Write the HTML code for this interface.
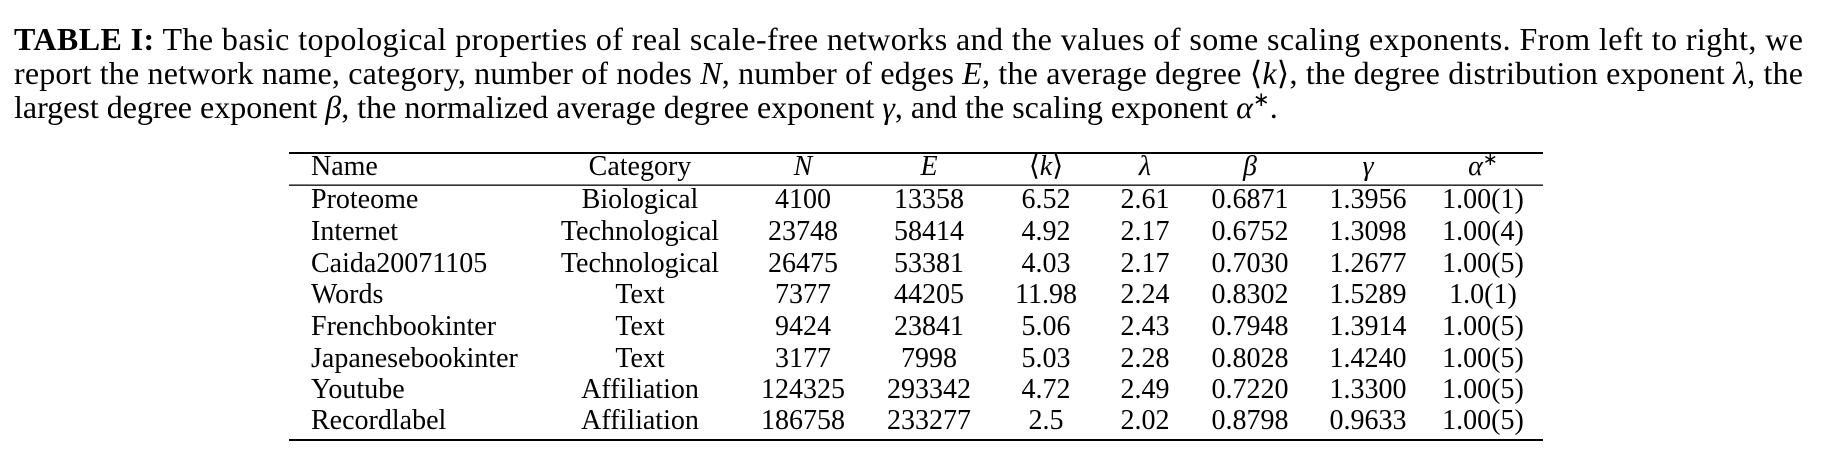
<!DOCTYPE html>
<html><head><meta charset="utf-8"><style>
html,body{margin:0;padding:0;background:#fff;}
svg{display:block;}
text{font-family:"Liberation Serif",serif;fill:#000;}
</style></head><body>
<svg width="1846" height="468" viewBox="0 0 1846 468" xmlns="http://www.w3.org/2000/svg">
<g font-size="32">
<text x="14" y="50" textLength="1789" lengthAdjust="spacing"><tspan font-weight="bold">TABLE I:</tspan> The basic topological properties of real scale-free networks and the values of some scaling exponents. From left to right, we</text>
<text x="14" y="84" textLength="1789" lengthAdjust="spacing">report the network name, category, number of nodes <tspan font-style="italic">N</tspan>, number of edges <tspan font-style="italic">E</tspan>, the average degree ⟨<tspan font-style="italic">k</tspan>⟩, the degree distribution exponent <tspan font-style="italic">λ</tspan>, the</text>
<text x="14" y="118">largest degree exponent <tspan font-style="italic">β</tspan>, the normalized average degree exponent <tspan font-style="italic">γ</tspan>, and the scaling exponent <tspan font-style="italic">α</tspan><tspan font-size="20" dy="-12">∗</tspan><tspan dy="12">.</tspan></text>
</g>
<rect x="289" y="152" width="1254" height="2" fill="#000"/>
<rect x="289" y="184.5" width="1254" height="1.3" fill="#000"/>
<rect x="289" y="439" width="1254" height="2" fill="#000"/>
<g font-size="28">
<text x="311" y="175">Name</text>
<text x="640" y="175" text-anchor="middle">Category</text>
<text x="803" y="175" text-anchor="middle" font-style="italic">N</text>
<text x="929" y="175" text-anchor="middle" font-style="italic">E</text>
<text x="1046" y="175" text-anchor="middle">⟨<tspan font-style="italic">k</tspan>⟩</text>
<text x="1145" y="175" text-anchor="middle" font-style="italic">λ</text>
<text x="1250" y="175" text-anchor="middle" font-style="italic">β</text>
<text x="1368" y="175" text-anchor="middle" font-style="italic">γ</text>
<text x="1483" y="175" text-anchor="middle"><tspan font-style="italic">α</tspan><tspan font-size="18" dy="-10">∗</tspan></text>
</g>
<g font-size="28">
<g text-anchor="start">
<text x="311" y="208">Proteome</text>
<text x="311" y="240">Internet</text>
<text x="311" y="272">Caida20071105</text>
<text x="311" y="303">Words</text>
<text x="311" y="335">Frenchbookinter</text>
<text x="311" y="367">Japanesebookinter</text>
<text x="311" y="398">Youtube</text>
<text x="311" y="429">Recordlabel</text>
</g>
<g text-anchor="middle">
<text x="640" y="208">Biological</text><text x="803" y="208">4100</text><text x="929" y="208">13358</text><text x="1046" y="208">6.52</text><text x="1145" y="208">2.61</text><text x="1250" y="208">0.6871</text><text x="1368" y="208">1.3956</text><text x="1483" y="208">1.00(1)</text>
<text x="640" y="240">Technological</text><text x="803" y="240">23748</text><text x="929" y="240">58414</text><text x="1046" y="240">4.92</text><text x="1145" y="240">2.17</text><text x="1250" y="240">0.6752</text><text x="1368" y="240">1.3098</text><text x="1483" y="240">1.00(4)</text>
<text x="640" y="272">Technological</text><text x="803" y="272">26475</text><text x="929" y="272">53381</text><text x="1046" y="272">4.03</text><text x="1145" y="272">2.17</text><text x="1250" y="272">0.7030</text><text x="1368" y="272">1.2677</text><text x="1483" y="272">1.00(5)</text>
<text x="640" y="303">Text</text><text x="803" y="303">7377</text><text x="929" y="303">44205</text><text x="1046" y="303">11.98</text><text x="1145" y="303">2.24</text><text x="1250" y="303">0.8302</text><text x="1368" y="303">1.5289</text><text x="1483" y="303">1.0(1)</text>
<text x="640" y="335">Text</text><text x="803" y="335">9424</text><text x="929" y="335">23841</text><text x="1046" y="335">5.06</text><text x="1145" y="335">2.43</text><text x="1250" y="335">0.7948</text><text x="1368" y="335">1.3914</text><text x="1483" y="335">1.00(5)</text>
<text x="640" y="367">Text</text><text x="803" y="367">3177</text><text x="929" y="367">7998</text><text x="1046" y="367">5.03</text><text x="1145" y="367">2.28</text><text x="1250" y="367">0.8028</text><text x="1368" y="367">1.4240</text><text x="1483" y="367">1.00(5)</text>
<text x="640" y="398">Affiliation</text><text x="803" y="398">124325</text><text x="929" y="398">293342</text><text x="1046" y="398">4.72</text><text x="1145" y="398">2.49</text><text x="1250" y="398">0.7220</text><text x="1368" y="398">1.3300</text><text x="1483" y="398">1.00(5)</text>
<text x="640" y="429">Affiliation</text><text x="803" y="429">186758</text><text x="929" y="429">233277</text><text x="1046" y="429">2.5</text><text x="1145" y="429">2.02</text><text x="1250" y="429">0.8798</text><text x="1368" y="429">0.9633</text><text x="1483" y="429">1.00(5)</text>
</g>
</g>
</svg>
</body></html>
